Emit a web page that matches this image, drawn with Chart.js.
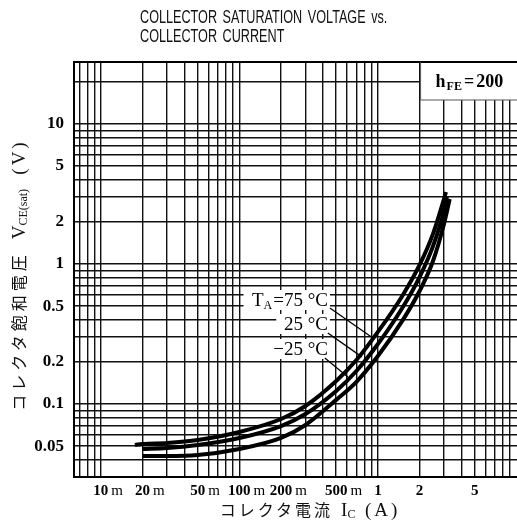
<!DOCTYPE html>
<html>
<head>
<meta charset="utf-8">
<script src="https://cdn.jsdelivr.net/npm/chart.js@4.4.1/dist/chart.umd.min.js"></script>
<style>
  html, body { margin: 0; padding: 0; background: #fff; }
  #wrap { position: relative; width: 517px; height: 529px; overflow: hidden; }
  #chart { position: absolute; left: 0; top: 0; }
  .title { position: absolute; left: 140px; top: 8px; font-family: "Liberation Sans", sans-serif; font-size: 18px; line-height: 19px; color: #111; white-space: nowrap; transform-origin: 0 0; word-spacing: 3px; }
  .ytitle { position: absolute; left: -132px; top: 263px; width: 300px; height: 24px; line-height: 24px; text-align: center; transform: rotate(-90deg); white-space: nowrap; color: #111; }
  .xtitle { position: absolute; left: 160px; top: 497px; width: 300px; height: 24px; line-height: 24px; text-align: center; white-space: nowrap; color: #111; }
  .jp { font-family: "Noto Sans CJK JP", sans-serif; font-size: 16px; letter-spacing: 3px; }
  .ytitle .jp { letter-spacing: 4px; }
  .sym { font-family: "Liberation Serif", serif; font-size: 19px; }
  .sym sub { font-size: 12px; vertical-align: -2px; }
  .par { letter-spacing: 3px; }
</style>
</head>
<body>
<div id="wrap">
  <canvas id="chart" width="517" height="529"></canvas>
  <div class="title" id="title">COLLECTOR SATURATION VOLTAGE vs.<br>COLLECTOR CURRENT</div>
  <div class="ytitle"><span class="jp">コレクタ飽和電圧</span>&nbsp;&nbsp;&nbsp;<span class="sym">V<sub>CE(sat)</sub>&nbsp;&nbsp;&nbsp;<span class="par">(V)</span></span></div>
  <div class="xtitle"><span class="jp">コレクタ電流</span>&nbsp;&nbsp;<span class="sym">I<sub>C</sub>&nbsp;&nbsp;<span class="par">(A)</span></span></div>
</div>
<script>
// collector current (A) and VCE(sat) (V)
const current75 = [0.0176, 0.02, 0.03, 0.05, 0.1, 0.2, 0.3, 0.5, 0.7, 1, 1.5, 2, 2.5, 3, 3.1];
const vce75     = [0.051, 0.0518, 0.0527, 0.0553, 0.0631, 0.0781, 0.0968, 0.146, 0.206, 0.327, 0.591, 0.984, 1.64, 2.91, 3.27];
const current25 = [0.02, 0.03, 0.05, 0.1, 0.2, 0.3, 0.5, 0.7, 1, 1.5, 2, 2.5, 3, 3.15];
const vce25     = [0.0477, 0.0485, 0.051, 0.0572, 0.0696, 0.0848, 0.124, 0.172, 0.268, 0.485, 0.807, 1.34, 2.39, 3.01];
const currentM25 = [0.02, 0.03, 0.05, 0.1, 0.2, 0.3, 0.5, 0.7, 1, 1.5, 2, 2.5, 3, 3.3];
const vceM25     = [0.0425, 0.0425, 0.0432, 0.0477, 0.0572, 0.0708, 0.107, 0.144, 0.22, 0.392, 0.641, 1.05, 1.93, 2.91];

// labelled ticks
const xTickValues = [0.01, 0.02, 0.05, 0.1, 0.2, 0.5, 1, 2, 5];
const xTickNums   = ['10', '20', '50', '100', '200', '500', '1', '2', '5'];
const xTickUnits  = ['m', 'm', 'm', 'm', 'm', 'm', '', '', ''];
const yTickValues = [0.05, 0.1, 0.2, 0.5, 1, 2, 5, 10];
const yTickLabels = ['0.05', '0.1', '0.2', '0.5', '1', '2', '5', '10'];

// log paper grid
const mantissas = [1, 2, 3, 4, 5, 6, 7, 8, 9];
const xDecades = [0.001, 0.01, 0.1, 1];
const yDecades = [0.01, 0.1, 1, 10];
const X_MIN = 0.0064, X_MAX = 10.1, Y_MIN = 0.0301, Y_MAX = 27.7;

function logGrid(decades, lo, hi) {
    const out = [];
    decades.forEach(d => mantissas.forEach(m => {
        const v = parseFloat((m * d).toPrecision(3));
        if (v > lo && v < hi) out.push(v);
    }));
    return out;
}
const xGrid = logGrid(xDecades, X_MIN, X_MAX);
const yGrid = logGrid(yDecades, Y_MIN, Y_MAX);

function sameVal(a, b) { return Math.abs(Math.log10(a) - Math.log10(b)) < 1e-6; }

// annotation text / leader lines (data units)
const tempLabels = [
    { main: 'T', sub: 'A', rest: '=75 °C', at: [0.436, 0.553], from: [0.45, 0.485], to: [0.92, 0.296] },
    { main: '', sub: '', rest: '25 °C', at: [0.436, 0.373], from: [0.435, 0.321], to: [0.766, 0.217] },
    { main: '', sub: '', rest: '−25 °C', at: [0.436, 0.247], from: [0.414, 0.213], to: [0.607, 0.156] }
];

const serif = '"Liberation Serif", "Times New Roman", serif';

const paperPlugin = {
    id: 'paper',
    beforeDatasetsDraw(chart) {
        const { ctx, chartArea: a, scales: { x, y } } = chart;
        ctx.save();
        ctx.fillStyle = '#fff';
        // hFE box
        const bx = x.getPixelForValue(2) + 1;
        ctx.fillRect(bx, a.top, a.right - bx, 38);
        // label backgrounds
        ctx.font = '18px ' + serif;
        tempLabels.forEach(t => {
            const px = x.getPixelForValue(t.at[0]);
            const py = y.getPixelForValue(t.at[1]);
            const w = ctx.measureText(t.main + t.sub + t.rest).width + 8;
            ctx.fillRect(px - w - 2, py - 10, w + 4, 20);
        });
        ctx.restore();
    },
    afterDraw(chart) {
        const { ctx, chartArea: a, scales: { x, y } } = chart;
        ctx.save();
        ctx.strokeStyle = '#000';
        ctx.fillStyle = '#000';
        // top frame line
        ctx.lineWidth = 2;
        ctx.beginPath();
        ctx.moveTo(a.left, a.top);
        ctx.lineTo(a.right, a.top);
        ctx.stroke();
        // hFE box edges
        const bx = x.getPixelForValue(2) + 1;
        ctx.lineWidth = 1;
        ctx.strokeStyle = '#555';
        ctx.beginPath();
        ctx.moveTo(bx, a.top);
        ctx.lineTo(bx, a.top + 38);
        ctx.lineTo(a.right, a.top + 38);
        ctx.stroke();
        ctx.textBaseline = 'alphabetic';
        ctx.textAlign = 'left';
        let cx = bx + 15;
        const by = a.top + 25;
        ctx.font = 'bold 18px ' + serif;
        ctx.fillText('h', cx, by); cx += ctx.measureText('h').width + 1;
        ctx.font = 'bold 12px ' + serif;
        ctx.fillText('FE', cx, by + 3); cx += ctx.measureText('FE').width + 2;
        ctx.font = 'bold 18px ' + serif;
        ctx.fillText('=', cx, by); cx += ctx.measureText('=').width + 2;
        ctx.fillText('200', cx, by);

        // temperature labels
        ctx.strokeStyle = '#000';
        ctx.lineWidth = 1.3;
        tempLabels.forEach(t => {
            const px = x.getPixelForValue(t.at[0]);
            const py = y.getPixelForValue(t.at[1]) + 6;
            ctx.font = '19px ' + serif;
            const wRest = ctx.measureText(t.rest).width;
            ctx.fillText(t.rest, px - wRest, py);
            if (t.main) {
                ctx.font = '12px ' + serif;
                const wSub = ctx.measureText(t.sub).width;
                ctx.fillText(t.sub, px - wRest - wSub - 1, py + 3);
                ctx.font = '19px ' + serif;
                const wMain = ctx.measureText(t.main).width;
                ctx.fillText(t.main, px - wRest - wSub - wMain - 1, py);
            }
            ctx.beginPath();
            ctx.moveTo(x.getPixelForValue(t.from[0]), y.getPixelForValue(t.from[1]));
            ctx.lineTo(x.getPixelForValue(t.to[0]), y.getPixelForValue(t.to[1]));
            ctx.stroke();
        });

        // x tick labels, number centred on the grid line
        ctx.textBaseline = 'middle';
        xTickValues.forEach((v, i) => {
            const px = x.getPixelForValue(v);
            ctx.font = 'bold 15px ' + serif;
            const wn = ctx.measureText(xTickNums[i]).width;
            ctx.fillText(xTickNums[i], px - wn / 2, a.bottom + 14);
            if (xTickUnits[i]) {
                ctx.font = '15px ' + serif;
                ctx.fillText(xTickUnits[i], px + wn / 2 + 3, a.bottom + 14);
            }
        });
        ctx.restore();
    }
};

function curve(xs, ys) {
    return {
        data: xs.map((v, i) => ({ x: v, y: ys[i] })),
        borderColor: '#000',
        borderWidth: 4,
        pointRadius: 0,
        fill: false,
        cubicInterpolationMode: 'monotone'
    };
}

const gridStyle = { color: '#111', lineWidth: 1.4, drawTicks: false };

new Chart(document.getElementById('chart').getContext('2d'), {
    type: 'line',
    data: {
        datasets: [
            curve(current75, vce75),
            curve(current25, vce25),
            curve(currentM25, vceM25)
        ]
    },
    options: {
        responsive: false,
        animation: false,
        layout: { padding: { top: 62, right: 0, bottom: 52, left: 0 } },
        plugins: { legend: { display: false }, tooltip: { enabled: false } },
        scales: {
            x: {
                type: 'logarithmic',
                min: X_MIN,
                max: X_MAX,
                afterBuildTicks: s => { s.ticks = xGrid.map(v => ({ value: v })); },
                grid: gridStyle,
                border: { display: true, color: '#000', width: 2 },
                ticks: { display: false }
            },
            y: {
                type: 'logarithmic',
                min: Y_MIN,
                max: Y_MAX,
                afterBuildTicks: s => { s.ticks = yGrid.map(v => ({ value: v })); },
                afterFit: s => { s.width = 74; },
                grid: gridStyle,
                border: { display: true, color: '#000', width: 2 },
                ticks: {
                    autoSkip: false,
                    padding: 10,
                    color: '#000',
                    font: { family: serif, size: 17, weight: 'bold' },
                    callback: v => {
                        const i = yTickValues.findIndex(t => sameVal(t, v));
                        return i >= 0 ? yTickLabels[i] : '';
                    }
                }
            }
        }
    },
    plugins: [paperPlugin]
});

// squeeze the title to the narrow face of the original
const title = document.getElementById('title');
title.style.transform = 'scaleX(' + (247 / title.offsetWidth).toFixed(3) + ')';
</script>
</body>
</html>
